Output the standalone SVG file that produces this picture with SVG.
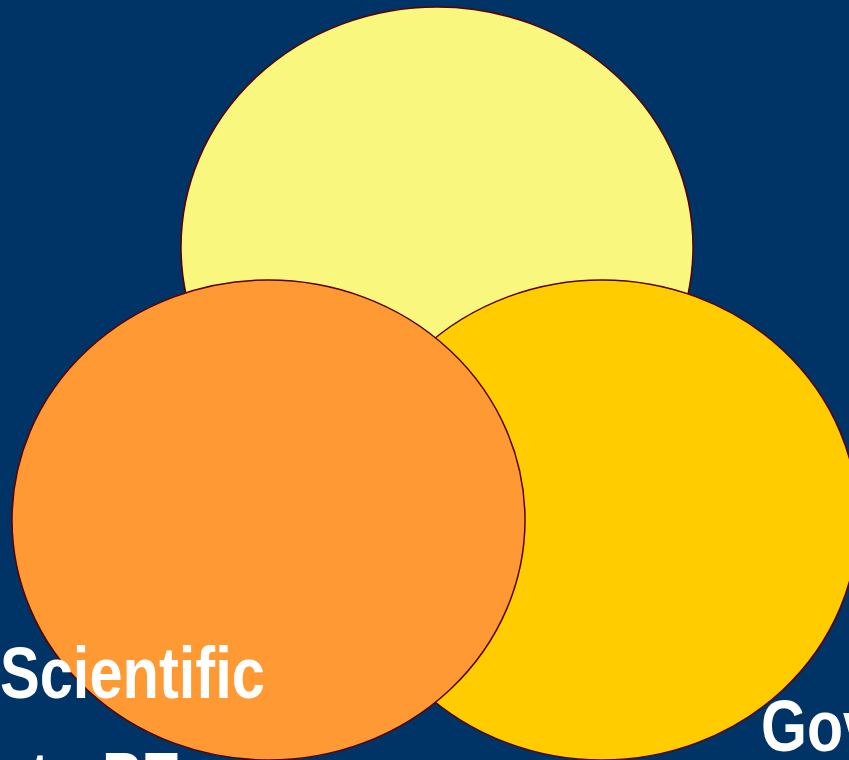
<svg xmlns="http://www.w3.org/2000/svg" width="849" height="760" viewBox="0 0 849 760">
  <style>
    .c { stroke: #5a0000; stroke-width: 1.5; }
    .t { fill: #ffffff; font-family: "Liberation Sans", Arial, sans-serif; font-weight: bold; font-size: 72px; }
  </style>
  <rect x="0" y="0" width="849" height="760" fill="#003366"/>
  <g id="circle-top">
    <ellipse class="c" cx="437" cy="247" rx="256" ry="240" fill="#F9F77D"/>
  </g>
  <g id="circle-right">
    <ellipse class="c" cx="602" cy="520" rx="256" ry="240" fill="#FFCC00"/>
  </g>
  <g id="circle-left">
    <ellipse class="c" cx="268.5" cy="520" rx="256.5" ry="240" fill="#FF9933"/>
  </g>
  <g id="labels">
    <text class="t" transform="translate(0,698) scale(0.82,1)" x="0" y="0" textLength="323" lengthAdjust="spacingAndGlyphs">Scientific</text>
    <text class="t" transform="translate(30,803) scale(0.82,1)" x="0" y="0">to PE</text>
    <text class="t" transform="translate(761,751) scale(0.82,1)" x="0" y="0">Gov</text>
  </g>
</svg>
